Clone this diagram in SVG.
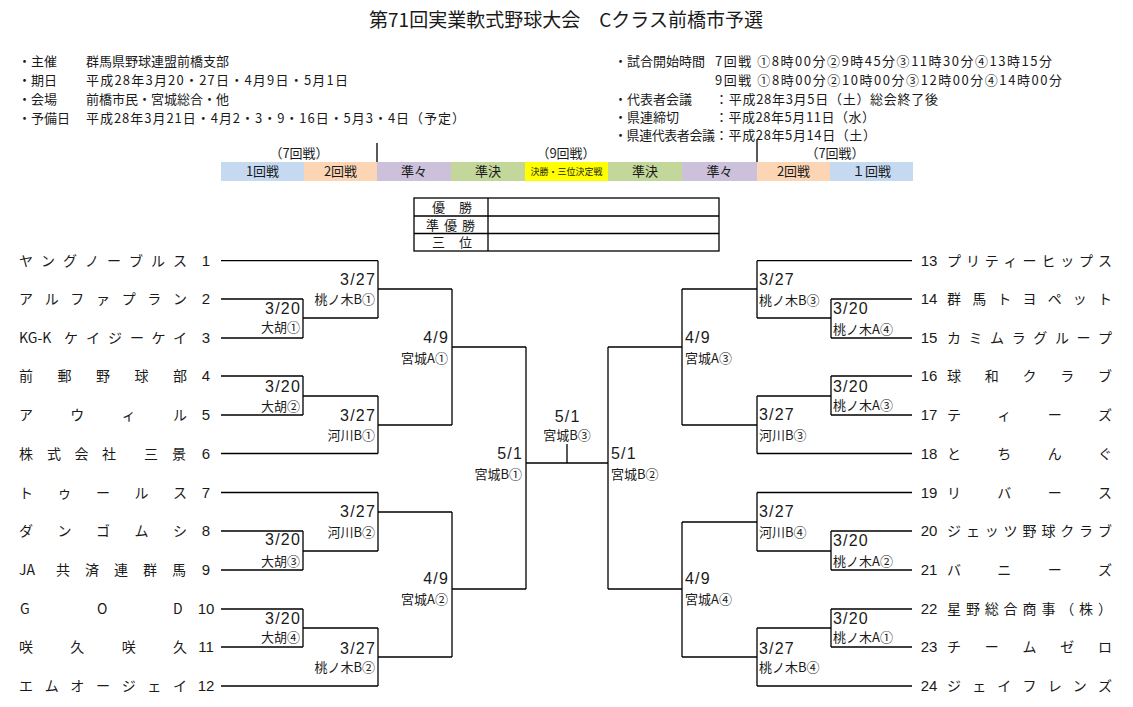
<svg xmlns="http://www.w3.org/2000/svg" width="1133" height="707" viewBox="0 0 1133 707">
<style>
text{font-family:"Noto Sans CJK JP","Liberation Sans",sans-serif;fill:#1a1a1a}
.title{font-size:19px}
.info{font-size:13px}
.bar{font-size:13px;text-anchor:middle}
.tiny{font-size:9px;text-anchor:middle}
.name{font-size:14px}
.num{font-size:15px;text-anchor:middle;font-family:"Liberation Sans","Noto Sans CJK JP",sans-serif}
.date{font-size:16px;letter-spacing:1.2px;font-family:"Liberation Sans","Noto Sans CJK JP",sans-serif}
.ven{font-size:13px}
.end{text-anchor:end}
.mid{text-anchor:middle}
.cell{font-size:13px}
.ln{fill:none;stroke:#000;stroke-width:1.3}
</style>
<rect width="1133" height="707" fill="#fff"/>
<g id="header">
<text class="title" x="566" y="27" text-anchor="middle">第71回実業軟式野球大会　Cクラス前橋市予選</text>
</g>
<g id="info-left">
<text class="info" x="18" y="66">・主催</text>
<text class="info" x="86" y="66">群馬県野球連盟前橋支部</text>
<text class="info" x="18" y="85">・期日</text>
<text class="info" x="86" y="85" textLength="262" lengthAdjust="spacing">平成28年3月20・27日・4月9日・5月1日</text>
<text class="info" x="18" y="104">・会場</text>
<text class="info" x="86" y="104">前橋市民・宮城総合・他</text>
<text class="info" x="18" y="123">・予備日</text>
<text class="info" x="86" y="123" textLength="379" lengthAdjust="spacing">平成28年3月21日・4月2・3・9・16日・5月3・4日（予定）</text>
</g>
<g id="info-right">
<text class="info" x="614" y="66">・試合開始時間</text>
<text class="info" x="715" y="66" textLength="337" lengthAdjust="spacing">7回戦 ①8時00分②9時45分③11時30分④13時15分</text>
<text class="info" x="715" y="85" textLength="347" lengthAdjust="spacing">9回戦 ①8時00分②10時00分③12時00分④14時00分</text>
<text class="info" x="614" y="104">・代表者会議</text>
<text class="info" x="715" y="104" textLength="223" lengthAdjust="spacing">：平成28年3月5日（土）総会終了後</text>
<text class="info" x="614" y="122">・県連締切</text>
<text class="info" x="715" y="122" textLength="160" lengthAdjust="spacing">：平成28年5月11日（水）</text>
<text class="info" x="614" y="140" textLength="101" lengthAdjust="spacing">・県連代表者会議</text>
<text class="info" x="715" y="140" textLength="161" lengthAdjust="spacing">：平成28年5月14日（土）</text>
</g>
<g id="round-bar">
<rect x="221" y="162" width="83" height="19" fill="#c5d9f1"/>
<rect x="304" y="162" width="73" height="19" fill="#fcd5b4"/>
<rect x="377" y="162" width="74" height="19" fill="#ccc0da"/>
<rect x="451" y="162" width="74" height="19" fill="#c4d79b"/>
<rect x="525" y="162" width="83" height="19" fill="#ffff00"/>
<rect x="608" y="162" width="74" height="19" fill="#c4d79b"/>
<rect x="682" y="162" width="75" height="19" fill="#ccc0da"/>
<rect x="757" y="162" width="73" height="19" fill="#fcd5b4"/>
<rect x="830" y="162" width="83" height="19" fill="#c5d9f1"/>
<path class="ln" d="M377 143V162M757 140V162"/>
<text class="bar" x="299" y="158">（7回戦）</text>
<text class="bar" x="566" y="158">（9回戦）</text>
<text class="bar" x="835" y="158">（7回戦）</text>
<text class="bar" x="262.5" y="176">1回戦</text>
<text class="bar" x="340.5" y="176">2回戦</text>
<text class="bar" x="414" y="176">準々</text>
<text class="bar" x="488" y="176">準決</text>
<text class="tiny" x="566.5" y="175">決勝・三位決定戦</text>
<text class="bar" x="645" y="176">準決</text>
<text class="bar" x="719.5" y="176">準々</text>
<text class="bar" x="793.5" y="176">2回戦</text>
<text class="bar" x="871.5" y="176">１回戦</text>
</g>
<g id="results">
<rect x="414" y="198" width="305" height="53" fill="none" stroke="#000" stroke-width="1.3"/>
<path class="ln" d="M414 216H719M414 233.5H719M488 198V251"/>
<text class="cell" x="432 459" y="212">優勝</text>
<text class="cell" x="426 444 462" y="229.5">準優勝</text>
<text class="cell" x="432 459" y="247">三位</text>
</g>
<g id="connectors" class="ln">
<path d="M221 260.7H378M221 299H303M221 338H303M221 376H303M221 415H303M221 453.5H378M221 492.5H378M221 531H303M221 570H303M221 609H303M221 647H303M221 686H378"/>
<path d="M303 299V338M303 318H378M378 260.7V318M378 289H452M303 376V415M303 396H378M378 396V453.5M378 425H452M452 289V425M452 347H526"/>
<path d="M303 531V570M303 551H378M378 492.5V551M378 512H452M303 609V647M303 628H378M378 628V686M378 657H452M452 512V657M452 589H526"/>
<path d="M526 347V589M526 463H608M567 444V463M608 347V589"/>
<path d="M912 260.7H757M912 299H831M912 338H831M912 376H831M912 415H831M912 453.5H757M912 492.5H757M912 531H831M912 570H831M912 609H831M912 647H831M912 686H757"/>
<path d="M831 299V338M831 318H757M757 260.7V318M757 289H682M831 376V415M831 396H757M757 396V453.5M757 425H682M682 289V425M682 347H608"/>
<path d="M831 531V570M831 551H757M757 492.5V551M757 522H682M831 609V647M831 628H757M757 628V686M757 657H682M682 522V657M682 589H608"/>
</g>
<g id="team-1"><text class="name" x="19 41 63 85 107 129 151 173" y="266">ヤングノーブルス</text><text class="num" x="206" y="266">1</text></g>
<g id="team-2"><text class="name" x="19 44.7 70.3 96 121.7 147.3 173" y="304">アルファプラン</text><text class="num" x="206" y="304">2</text></g>
<g id="team-3"><text class="name" y="343"><tspan x="19">KG-K</tspan><tspan x="64 86 108 130 151.5 173">ケイジーケイ</tspan></text><text class="num" x="206" y="343">3</text></g>
<g id="team-4"><text class="name" x="19 57.5 96 134.5 173" y="381">前郵野球部</text><text class="num" x="206" y="381">4</text></g>
<g id="team-5"><text class="name" x="19 70.3 121.7 173" y="420">アウィル</text><text class="num" x="206" y="420">5</text></g>
<g id="team-6"><text class="name" x="19 47 74.5 102 144 172" y="459">株式会社三景</text><text class="num" x="206" y="459">6</text></g>
<g id="team-7"><text class="name" x="19 57.5 96 134.5 173" y="498">トゥールス</text><text class="num" x="206" y="498">7</text></g>
<g id="team-8"><text class="name" x="19 57.5 96 134.5 173" y="536">ダンゴムシ</text><text class="num" x="206" y="536">8</text></g>
<g id="team-9"><text class="name" y="575"><tspan x="19">JA</tspan><tspan x="56 85 114 143 172">共済連群馬</tspan></text><text class="num" x="206" y="575">9</text></g>
<g id="team-10"><text class="name" x="20 97 173" y="614">GOD</text><text class="num" x="206" y="614">10</text></g>
<g id="team-11"><text class="name" x="19 70.3 121.7 173" y="652">咲久咲久</text><text class="num" x="206" y="652">11</text></g>
<g id="team-12"><text class="name" x="19 44.7 70.3 96 121.7 147.3 173" y="691">エムオージェイ</text><text class="num" x="206" y="691">12</text></g>
<g id="team-13"><text class="num" x="929" y="266">13</text><text class="name" x="947 965.9 984.8 1003.6 1022.5 1041.4 1060.3 1079.1 1098" y="266">プリティーヒップス</text></g>
<g id="team-14"><text class="num" x="929" y="304">14</text><text class="name" x="947 972.2 997.3 1022.5 1047.7 1072.8 1098" y="304">群馬トヨペット</text></g>
<g id="team-15"><text class="num" x="929" y="343">15</text><text class="name" x="947 968.6 990.1 1011.7 1033.3 1054.9 1076.4 1098" y="343">カミムラグループ</text></g>
<g id="team-16"><text class="num" x="929" y="381">16</text><text class="name" x="947 984.75 1022.5 1060.25 1098" y="381">球和クラブ</text></g>
<g id="team-17"><text class="num" x="929" y="420">17</text><text class="name" x="947 997.3 1047.7 1098" y="420">ティーズ</text></g>
<g id="team-18"><text class="num" x="929" y="459">18</text><text class="name" x="947 997.3 1047.7 1098" y="459">とちんぐ</text></g>
<g id="team-19"><text class="num" x="929" y="498">19</text><text class="name" x="947 997.3 1047.7 1098" y="498">リバース</text></g>
<g id="team-20"><text class="num" x="929" y="536">20</text><text class="name" x="947 965.9 984.8 1003.6 1022.5 1041.4 1060.3 1079.1 1098" y="536">ジェッツ野球クラブ</text></g>
<g id="team-21"><text class="num" x="929" y="575">21</text><text class="name" x="947 997.3 1047.7 1098" y="575">バニーズ</text></g>
<g id="team-22"><text class="num" x="929" y="614">22</text><text class="name" x="947 965.9 984.8 1003.6 1022.5 1041.4 1060.3 1079.1 1098" y="614">星野総合商事（株）</text></g>
<g id="team-23"><text class="num" x="929" y="652">23</text><text class="name" x="947 984.75 1022.5 1060.25 1098" y="652">チームゼロ</text></g>
<g id="team-24"><text class="num" x="929" y="691">24</text><text class="name" x="947 972.2 997.3 1022.5 1047.7 1072.8 1098" y="691">ジェイフレンズ</text></g>
<g id="match-L1"><text class="date end" x="376" y="285">3/27</text><text class="ven end" x="375" y="304">桃ノ木B①</text></g>
<g id="match-L2"><text class="date end" x="301" y="314">3/20</text><text class="ven end" x="300" y="332">大胡①</text></g>
<g id="match-L3"><text class="date end" x="449" y="343">4/9</text><text class="ven end" x="448" y="363">宮城A①</text></g>
<g id="match-L4"><text class="date end" x="301" y="392">3/20</text><text class="ven end" x="300" y="411">大胡②</text></g>
<g id="match-L5"><text class="date end" x="376" y="421">3/27</text><text class="ven end" x="375" y="440">河川B①</text></g>
<g id="match-L6"><text class="date end" x="523" y="459">5/1</text><text class="ven end" x="522" y="479">宮城B①</text></g>
<g id="match-L7"><text class="date end" x="376" y="517">3/27</text><text class="ven end" x="375" y="537">河川B②</text></g>
<g id="match-L8"><text class="date end" x="301" y="545">3/20</text><text class="ven end" x="300" y="566">大胡③</text></g>
<g id="match-L9"><text class="date end" x="449" y="584">4/9</text><text class="ven end" x="448" y="604">宮城A②</text></g>
<g id="match-L10"><text class="date end" x="301" y="624">3/20</text><text class="ven end" x="300" y="642">大胡④</text></g>
<g id="match-L11"><text class="date end" x="376" y="654">3/27</text><text class="ven end" x="375" y="672">桃ノ木B②</text></g>
<g id="match-final"><text class="date mid" x="567.6" y="421.5">5/1</text><text class="ven mid" x="567" y="440">宮城B③</text></g>
<g id="match-R1"><text class="date" x="759" y="285">3/27</text><text class="ven" x="759" y="305">桃ノ木B③</text></g>
<g id="match-R2"><text class="date" x="833" y="314">3/20</text><text class="ven" x="833" y="334">桃ノ木A④</text></g>
<g id="match-R3"><text class="date" x="685" y="343">4/9</text><text class="ven" x="685" y="363">宮城A③</text></g>
<g id="match-R4"><text class="date" x="833" y="392">3/20</text><text class="ven" x="833" y="410">桃ノ木A③</text></g>
<g id="match-R5"><text class="date" x="759" y="420">3/27</text><text class="ven" x="759" y="440">河川B③</text></g>
<g id="match-R6"><text class="date" x="611" y="459">5/1</text><text class="ven" x="611" y="479">宮城B②</text></g>
<g id="match-R7"><text class="date" x="759" y="517">3/27</text><text class="ven" x="759" y="537">河川B④</text></g>
<g id="match-R8"><text class="date" x="833" y="546">3/20</text><text class="ven" x="833" y="566">桃ノ木A②</text></g>
<g id="match-R9"><text class="date" x="685" y="584">4/9</text><text class="ven" x="685" y="604">宮城A④</text></g>
<g id="match-R10"><text class="date" x="833" y="624">3/20</text><text class="ven" x="833" y="642">桃ノ木A①</text></g>
<g id="match-R11"><text class="date" x="759" y="654">3/27</text><text class="ven" x="759" y="672">桃ノ木B④</text></g>
</svg>
